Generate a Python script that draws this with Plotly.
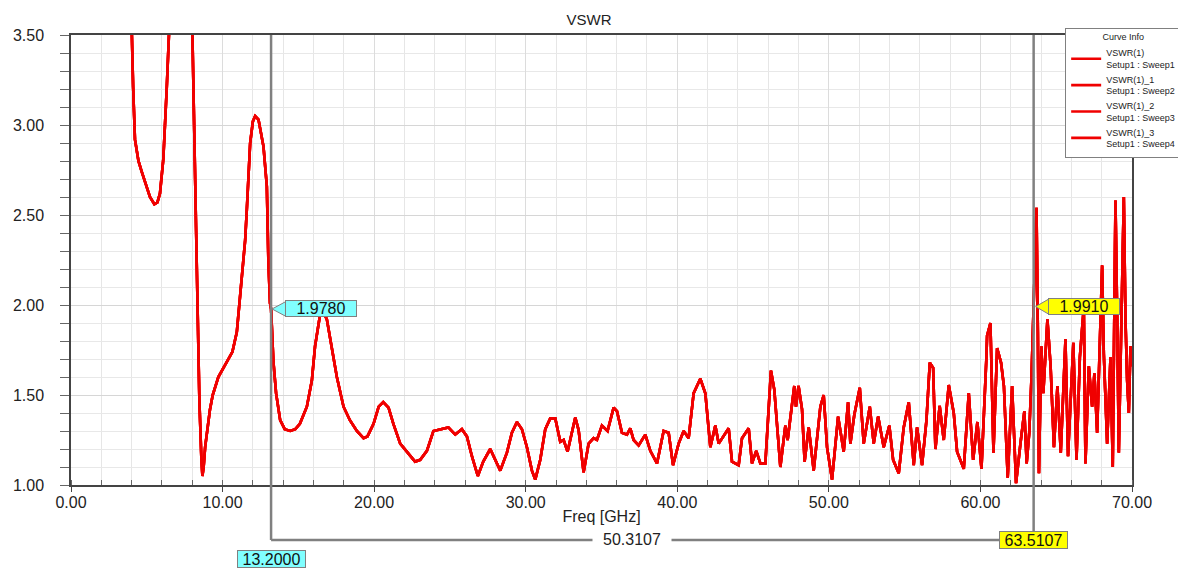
import plotly.graph_objects as go

# ---- data ----
freq_ghz = [3.9, 4.0, 4.1, 4.22, 4.45, 4.67, 5.0, 5.21, 5.5, 5.7, 5.87, 6.09, 6.32, 6.42, 6.55, 7.2, 7.9,
            8.03, 8.14, 8.2, 8.25, 8.34, 8.47, 8.6, 8.67, 8.75, 8.85, 9.17, 9.35, 9.72, 10.28, 10.65, 10.94,
            11.16, 11.49, 11.6, 11.82, 12.0, 12.15, 12.37, 12.7, 12.92, 13.02, 13.13, 13.2, 13.35, 13.53, 13.8,
            14.1, 14.46, 14.8, 15.1, 15.56, 15.89, 16.1, 16.44, 16.6, 16.88, 17.2, 17.54, 17.98, 18.4, 18.86,
            19.3, 19.56, 19.96, 20.3, 20.6, 20.95, 21.27, 21.72, 22.16, 22.7, 23.04, 23.48, 23.91, 24.36, 24.9,
            25.35, 25.79, 26.12, 26.45, 26.84, 27.2, 27.66, 27.99, 28.32, 28.76, 29.09, 29.42, 29.75, 30.08,
            30.41, 30.63, 30.96, 31.29, 31.62, 31.95, 32.28, 32.5, 32.76, 33.27, 33.49, 33.82, 34.15, 34.48,
            34.7, 35.03, 35.4, 35.8, 36.02, 36.35, 36.68, 36.9, 37.12, 37.45, 37.89, 38.22, 38.66, 39.1, 39.43,
            39.72, 40.09, 40.42, 40.75, 41.08, 41.52, 41.85, 42.18, 42.51, 42.73, 43.39, 43.61, 44.05, 44.27,
            44.71, 44.93, 45.21, 45.48, 45.81, 46.18, 46.4, 46.8, 47.13, 47.28, 47.72, 47.83, 48.0, 48.23, 48.4,
            48.67, 49.0, 49.44, 49.66, 49.88, 50.21, 50.61, 50.98, 51.27, 51.42, 51.68, 52.04, 52.3, 52.7, 52.96,
            53.25, 53.62, 53.99, 54.24, 54.61, 54.94, 55.27, 55.6, 55.82, 56.15, 56.44, 56.66, 56.88, 57.03,
            57.31, 57.58, 57.91, 58.24, 58.46, 58.9, 59.23, 59.52, 59.8, 60.07, 60.39, 60.44, 60.66, 60.86,
            61.1, 61.36, 61.55, 61.8, 62.09, 62.35, 62.64, 62.9, 63.05, 63.22, 63.37, 63.51, 63.6, 63.7, 63.79,
            63.86, 64.02, 64.15, 64.42, 64.63, 64.85, 65.08, 65.3, 65.61, 65.78, 66.13, 66.34, 66.56, 66.82,
            66.93, 67.15, 67.37, 67.52, 67.7, 68.03, 68.14, 68.36, 68.58, 68.73, 68.91, 69.02, 69.13, 69.46,
            69.57, 69.68, 69.79, 69.9, 70.0]
vswr = [3.9, 3.50, 3.21, 2.92, 2.80, 2.74, 2.66, 2.60, 2.56, 2.57, 2.62, 2.81, 3.21, 3.50, 4.0, 5.0, 4.0,
        3.50, 3.03, 2.66, 2.43, 2.03, 1.47, 1.15, 1.05, 1.10, 1.21, 1.42, 1.50, 1.60, 1.68, 1.74, 1.85,
        2.05, 2.36, 2.53, 2.90, 3.02, 3.05, 3.03, 2.88, 2.66, 2.25, 2.01, 1.978, 1.69, 1.51, 1.36,
        1.31, 1.30, 1.31, 1.34, 1.435, 1.58, 1.77, 1.95, 1.97, 1.92, 1.77, 1.60, 1.435, 1.36, 1.30,
        1.26, 1.27, 1.34, 1.435, 1.46, 1.43, 1.34, 1.23, 1.185, 1.13, 1.14, 1.19, 1.30, 1.31, 1.32,
        1.28, 1.31, 1.27, 1.16, 1.05, 1.13, 1.20, 1.14, 1.08, 1.18, 1.29, 1.35, 1.31, 1.21,
        1.08, 1.03, 1.14, 1.31, 1.37, 1.37, 1.24, 1.25, 1.185, 1.375, 1.305, 1.07, 1.23, 1.26,
        1.25, 1.33, 1.30, 1.43, 1.41, 1.29, 1.28, 1.315, 1.25, 1.22, 1.28, 1.19, 1.12, 1.30, 1.29,
        1.11, 1.23, 1.30, 1.26, 1.51, 1.59, 1.51, 1.21, 1.33, 1.23, 1.315, 1.13, 1.11, 1.26,
        1.315, 1.12, 1.19, 1.12, 1.12, 1.635, 1.53, 1.10, 1.33, 1.25, 1.55, 1.435, 1.55, 1.42, 1.13,
        1.32, 1.08, 1.435, 1.50, 1.21, 1.03, 1.38, 1.185, 1.46, 1.23, 1.39, 1.54, 1.23, 1.435, 1.23,
        1.38, 1.21, 1.33, 1.14, 1.065, 1.32, 1.46, 1.11, 1.32, 1.11, 1.36, 1.68, 1.65, 1.20,
        1.44, 1.25, 1.555, 1.40, 1.185, 1.09, 1.51, 1.14, 1.35, 1.09, 1.70, 1.83, 1.90, 1.18,
        1.76, 1.68, 1.55, 1.04, 1.55, 1.01, 1.23, 1.41, 1.12, 1.29, 1.60, 1.991, 2.32, 2.54, 1.85,
        1.065, 1.77, 1.51, 1.92, 1.66, 1.21, 1.55, 1.18, 1.81, 1.16, 1.79, 1.14, 1.71, 1.99,
        1.12, 1.66, 1.435, 1.62, 1.29, 2.22, 1.73, 1.23, 1.71, 1.10, 2.58, 1.95, 1.18, 2.60,
        1.92, 1.58, 1.40, 1.77, 1.66]

trace_names = ["VSWR(1)<br>Setup1 : Sweep1", "VSWR(1)_1<br>Setup1 : Sweep2",
               "VSWR(1)_2<br>Setup1 : Sweep3", "VSWR(1)_3<br>Setup1 : Sweep4"]

marker1_x, marker1_y = 13.2, 1.978
marker2_x, marker2_y = 63.5107, 1.991
marker1_label, marker2_label = "1.9780", "1.9910"
marker1_xlabel, marker2_xlabel = "13.2000", "63.5107"
delta_label = "50.3107"

FONT = "Liberation Sans, Arial, sans-serif"
CYAN = "#80FFFF"
YELLOW = "#FFFF00"
GRAY = "#808080"

fig = go.Figure()
for name in trace_names:
    fig.add_trace(go.Scatter(x=freq_ghz, y=vswr, mode="lines", name=name,
                             line=dict(color="#F00000", width=2.6)))

shapes = [
    dict(type="line", xref="x", yref="paper", x0=marker1_x, x1=marker1_x, y0=-0.122, y1=1,
         line=dict(color=GRAY, width=2.5)),
    dict(type="line", xref="x", yref="paper", x0=marker2_x, x1=marker2_x, y0=-0.105, y1=1,
         line=dict(color=GRAY, width=2.5)),
    dict(type="line", xref="x", yref="paper", x0=marker1_x, x1=marker2_x - 2, y0=-0.122, y1=-0.122,
         line=dict(color=GRAY, width=2.5)),
    dict(type="path", xref="x", yref="y", xsizemode="pixel", ysizemode="pixel",
         xanchor=marker1_x, yanchor=marker1_y, path="M1,0 L15,7.5 L15,-7.5 Z",
         fillcolor=CYAN, line=dict(color=GRAY, width=1)),
    dict(type="path", xref="x", yref="y", xsizemode="pixel", ysizemode="pixel",
         xanchor=marker2_x, yanchor=marker2_y, path="M2,0 L15,7.5 L15,-7.5 Z",
         fillcolor=YELLOW, line=dict(color=GRAY, width=1)),
]

annotations = [
    dict(x=marker1_x, y=marker1_y, xref="x", yref="y", xanchor="left", yanchor="middle", xshift=14,
         text=marker1_label, showarrow=False, bgcolor=CYAN, bordercolor=GRAY, borderwidth=1,
         borderpad=0, width=70, height=15, font=dict(family=FONT, size=16, color="#111")),
    dict(x=marker2_x, y=marker2_y, xref="x", yref="y", xanchor="left", yanchor="middle", xshift=14,
         text=marker2_label, showarrow=False, bgcolor=YELLOW, bordercolor=GRAY, borderwidth=1,
         borderpad=0, width=70, height=15, font=dict(family=FONT, size=16, color="#111")),
    dict(x=marker1_x, y=-0.164, xref="x", yref="paper", xanchor="center", yanchor="middle",
         text=marker1_xlabel, showarrow=False, bgcolor=CYAN, bordercolor=GRAY, borderwidth=1,
         borderpad=0, width=67, height=16, font=dict(family=FONT, size=16, color="#111")),
    dict(x=marker2_x, y=-0.122, xref="x", yref="paper", xanchor="center", yanchor="middle",
         text=marker2_xlabel, showarrow=False, bgcolor=YELLOW, bordercolor=GRAY, borderwidth=1,
         borderpad=0, width=67, height=16, font=dict(family=FONT, size=16, color="#111")),
    dict(x=37.0, y=-0.122, xref="x", yref="paper", xanchor="center", yanchor="middle",
         text=delta_label, showarrow=False, bgcolor="white", borderpad=0, width=78,
         font=dict(family=FONT, size=16, color="#222")),
]

fig.update_layout(
    width=1178, height=570,
    margin=dict(l=71, r=46, t=35, b=85, autoexpand=False),
    paper_bgcolor="white", plot_bgcolor="white",
    font=dict(family=FONT, size=16, color="#222"),
    title=dict(text="VSWR", x=0.5, xref="container", xanchor="center", y=0.966, yref="container",
               yanchor="middle", font=dict(family=FONT, size=15, color="#222")),
    showlegend=True,
    legend=dict(x=0.937, y=1.016, xanchor="left", yanchor="top", bgcolor="white",
                bordercolor=GRAY, borderwidth=1, tracegroupgap=0, itemwidth=30,
                font=dict(family=FONT, size=9, color="#222"),
                title=dict(text="Curve Info", side="top center", font=dict(family=FONT, size=9))),
    shapes=shapes,
    annotations=annotations,
)

fig.update_xaxes(
    range=[0, 70], dtick=10, tick0=0, tickformat=".2f",
    showline=True, linecolor="#444", linewidth=1.5, mirror=True,
    ticks="outside", ticklen=5, tickcolor="#444",
    showgrid=True, gridcolor="#DCDCDC", gridwidth=1, zeroline=False,
    minor=dict(dtick=2, ticks="inside", ticklen=5, tickcolor="#666", showgrid=True,
               gridcolor="#E6E6E6"),
    ticklabelstandoff=-3,
    title=dict(text="Freq [GHz]", standoff=1, font=dict(family=FONT, size=16)),
    tickfont=dict(family=FONT, size=16, color="#222"),
)
fig.update_yaxes(
    range=[1, 3.5], dtick=0.5, tick0=1, tickformat=".2f",
    showline=True, linecolor="#444", linewidth=1.5, mirror=True,
    ticks="outside", ticklen=9, tickcolor="#666",
    showgrid=True, gridcolor="#D6D6D6", gridwidth=1, zeroline=False,
    minor=dict(dtick=0.1, ticks="outside", ticklen=9, tickcolor="#666", showgrid=True,
               gridcolor="#E8E8E8"),
    ticklabelstandoff=13,
    tickfont=dict(family=FONT, size=16, color="#222"),
)

fig.write_html("out.html", config={"displayModeBar": False},
               post_script="document.body.style.margin='0px';")
